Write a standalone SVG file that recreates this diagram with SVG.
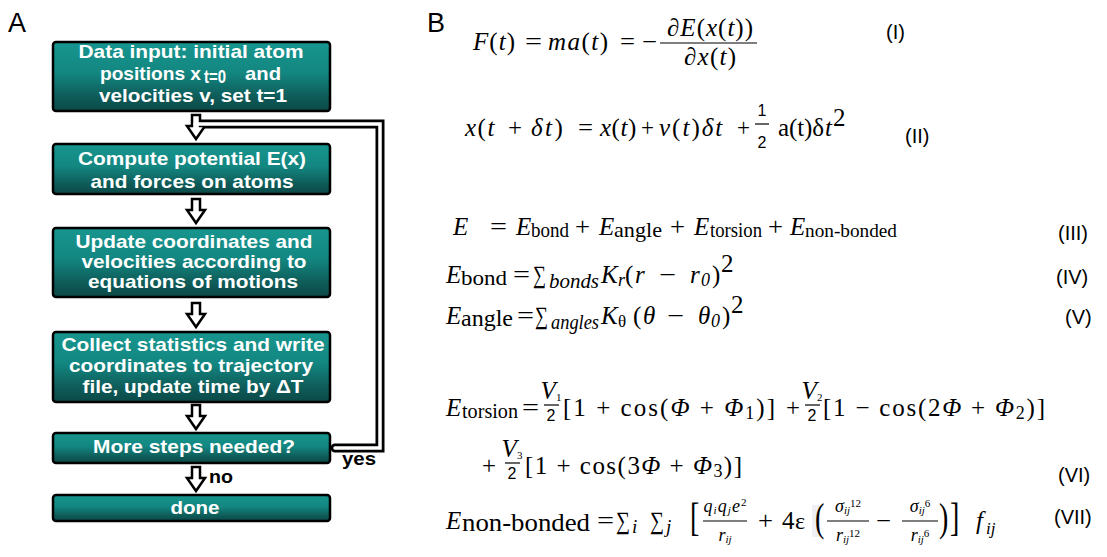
<svg xmlns="http://www.w3.org/2000/svg" width="1107" height="557" viewBox="0 0 1107 557">
<defs>
<linearGradient id="g" x1="0" y1="0" x2="0" y2="1">
<stop offset="0" stop-color="#17968f"/>
<stop offset="0.45" stop-color="#138680"/>
<stop offset="0.8" stop-color="#0e5b58"/>
<stop offset="1" stop-color="#0b4947"/>
</linearGradient>
<path id="arrow" d="M-4,0 H4 V11 H9 L0,24 L-9,11 H-4 Z"/>
<style>
.box{fill:url(#g);stroke:#000;stroke-width:2.5}
.bt{font-family:"Liberation Sans",Arial,sans-serif;font-weight:bold;font-size:19px;fill:#fff;text-anchor:middle}
.bs{font-family:"Liberation Sans",Arial,sans-serif;font-weight:bold;font-size:19px;fill:#fff}
.arr{fill:#fff;stroke:#000;stroke-width:2.5;stroke-linejoin:miter}
.lt{font-family:"Liberation Sans",Arial,sans-serif;font-weight:bold;font-size:19px;fill:#000}
.hd{font-family:"Liberation Sans",Arial,sans-serif;font-size:27px;fill:#000}
.m{font-family:"Liberation Serif","Times New Roman","DejaVu Serif",serif;font-size:25px;fill:#000}
.e{font-family:"Liberation Serif","Times New Roman","DejaVu Serif",serif;font-size:25px;font-style:italic;fill:#000}
.s{font-family:"Liberation Serif","Times New Roman",serif;fill:#000}
.f{font-family:"Liberation Serif","Times New Roman",serif;font-size:18px;fill:#000;text-anchor:middle}
.i{font-style:italic}
.lbl{font-family:"Liberation Sans",Arial,sans-serif;font-size:20px;fill:#000}
.n{font-family:"Liberation Sans",Arial,sans-serif;font-size:16px;fill:#000}
.c{text-anchor:middle}
.bar{stroke:#000;stroke-width:1.2}
</style>
</defs>

<text class="hd" x="8" y="32">A</text>
<text class="hd" x="427" y="32">B</text>

<g id="connectors">
<path d="M335,448 H380 V124 H200" fill="none" stroke="#000" stroke-width="9" stroke-linecap="round"/>
<use href="#arrow" class="arr" x="196" y="115"/>
<path d="M335,448 H380 V124 H195" fill="none" stroke="#fff" stroke-width="3.5" stroke-linecap="round"/>
<use href="#arrow" class="arr" x="196" y="199"/>
<use href="#arrow" class="arr" x="196" y="303"/>
<use href="#arrow" class="arr" x="196" y="405"/>
<use href="#arrow" class="arr" x="196" y="467"/>
<text class="lt" x="342" y="465" textLength="34" lengthAdjust="spacingAndGlyphs">yes</text>
<text class="lt" x="209" y="483" textLength="24" lengthAdjust="spacingAndGlyphs">no</text>
</g>

<g id="n1">
<rect class="box" x="53" y="42" width="277" height="69" rx="3"/>
<text class="bt" x="191" y="58" textLength="225" lengthAdjust="spacingAndGlyphs">Data input: initial atom</text>
<text class="bs" x="100" y="80" textLength="101" lengthAdjust="spacingAndGlyphs">positions x</text>
<text class="bs" x="204" y="83" font-size="14.5" textLength="22" lengthAdjust="spacingAndGlyphs">t=0</text>
<text class="bs" x="245" y="80" textLength="36" lengthAdjust="spacingAndGlyphs">and</text>
<text class="bt" x="193" y="102" textLength="188" lengthAdjust="spacingAndGlyphs">velocities v, set t=1</text>
</g>
<g id="n2">
<rect class="box" x="53" y="144" width="277" height="50" rx="3"/>
<text class="bt" x="192" y="165" textLength="228" lengthAdjust="spacingAndGlyphs">Compute potential E(x)</text>
<text class="bt" x="192" y="188" textLength="203" lengthAdjust="spacingAndGlyphs">and forces on atoms</text>
</g>
<g id="n3">
<rect class="box" x="53" y="228" width="277" height="69" rx="3"/>
<text class="bt" x="194" y="248" textLength="237" lengthAdjust="spacingAndGlyphs">Update coordinates and</text>
<text class="bt" x="194" y="268" textLength="225" lengthAdjust="spacingAndGlyphs">velocities according to</text>
<text class="bt" x="193" y="288" textLength="210" lengthAdjust="spacingAndGlyphs">equations of motions</text>
</g>
<g id="n4">
<rect class="box" x="53" y="332" width="277" height="70" rx="3"/>
<text class="bt" x="193" y="351" textLength="263" lengthAdjust="spacingAndGlyphs">Collect statistics and write</text>
<text class="bt" x="191" y="372" textLength="244" lengthAdjust="spacingAndGlyphs">coordinates to trajectory</text>
<text class="bt" x="193" y="393" textLength="221" lengthAdjust="spacingAndGlyphs">file, update time by ΔT</text>
</g>
<g id="n5">
<rect class="box" x="53" y="433" width="277" height="30" rx="3"/>
<text class="bt" x="194" y="453" textLength="202" lengthAdjust="spacingAndGlyphs">More steps needed?</text>
</g>
<g id="n6">
<rect class="box" x="53" y="495" width="277" height="26" rx="3"/>
<text class="bt" x="195" y="514" textLength="49" lengthAdjust="spacingAndGlyphs">done</text>
</g>

<g id="eq1">
<text class="m" x="473" y="50" textLength="42" lengthAdjust="spacing"><tspan class="i">F</tspan>(<tspan class="i">t</tspan>)</text>
<text class="m" x="525" y="50" textLength="17" lengthAdjust="spacingAndGlyphs">=</text>
<text class="m" x="548" y="50" textLength="60" lengthAdjust="spacing"><tspan class="i">ma</tspan>(<tspan class="i">t</tspan>)</text>
<text class="m" x="620" y="50" textLength="15" lengthAdjust="spacingAndGlyphs">=</text>
<text class="m" x="642" y="50" textLength="15" lengthAdjust="spacingAndGlyphs">−</text>
<line class="bar" x1="660" y1="43" x2="757" y2="43"/>
<text class="m c" x="710" y="36" textLength="86" lengthAdjust="spacing"><tspan class="i">∂E</tspan>(<tspan class="i">x</tspan>(<tspan class="i">t</tspan>))</text>
<text class="m c" x="710" y="65" textLength="52" lengthAdjust="spacing"><tspan class="i">∂x</tspan>(<tspan class="i">t</tspan>)</text>
<text class="lbl" x="886" y="39">(I)</text>
</g>

<g id="eq2">
<text class="m" x="465" y="136" letter-spacing="1.5"><tspan class="i">x</tspan>(<tspan class="i">t</tspan></text>
<text class="m" x="508" y="136" textLength="14" lengthAdjust="spacingAndGlyphs">+</text>
<text class="m" x="531" y="136" letter-spacing="2.5"><tspan class="i">δt</tspan>)</text>
<text class="m" x="578" y="136" textLength="15" lengthAdjust="spacingAndGlyphs">=</text>
<text class="m" x="600" y="136" letter-spacing="0.5"><tspan class="i">x</tspan>(<tspan class="i">t</tspan>)</text>
<text class="m" x="641" y="136" textLength="13" lengthAdjust="spacingAndGlyphs">+</text>
<text class="m" x="659" y="136" letter-spacing="2"><tspan class="i">v</tspan>(<tspan class="i">t</tspan>)<tspan class="i">δt</tspan></text>
<text class="m" x="737" y="136" textLength="13" lengthAdjust="spacingAndGlyphs">+</text>
<text class="n c" x="762" y="116" font-size="20">1</text>
<line class="bar" x1="755" y1="124" x2="769" y2="124"/>
<text class="n c" x="762" y="148" font-size="20">2</text>
<text class="m" x="778" y="136" textLength="46" lengthAdjust="spacing">a(t)δ</text>
<text class="m i" x="825" y="136">t</text>
<text class="m" x="833" y="126" font-size="15">2</text>
<text class="lbl" x="905" y="143">(II)</text>
</g>

<g id="eq3">
<text class="e" x="453" y="235">E</text>
<text class="m" x="490" y="235" textLength="17" lengthAdjust="spacingAndGlyphs">=</text>
<text class="e" x="516" y="235">E</text>
<text class="s" x="531" y="237" font-size="21" textLength="38" lengthAdjust="spacingAndGlyphs">bond</text>
<text class="m" x="575" y="235" textLength="15" lengthAdjust="spacingAndGlyphs">+</text>
<text class="e" x="599" y="235">E</text>
<text class="s" x="614" y="237" font-size="21" textLength="48" lengthAdjust="spacingAndGlyphs">angle</text>
<text class="m" x="670" y="235" textLength="15" lengthAdjust="spacingAndGlyphs">+</text>
<text class="e" x="694" y="235">E</text>
<text class="s" x="710" y="237" font-size="20" textLength="52" lengthAdjust="spacingAndGlyphs">torsion</text>
<text class="m" x="768" y="235" textLength="15" lengthAdjust="spacingAndGlyphs">+</text>
<text class="e" x="790" y="235">E</text>
<text class="s" x="805" y="237" font-size="19" textLength="92" lengthAdjust="spacingAndGlyphs">non-bonded</text>
<text class="lbl" x="1058" y="240">(III)</text>
</g>

<g id="eq4">
<text class="e" x="446" y="283">E</text>
<text class="s" x="461" y="285" font-size="22" textLength="46" lengthAdjust="spacingAndGlyphs">bond</text>
<text class="m" x="513" y="283" textLength="17" lengthAdjust="spacingAndGlyphs">=</text>
<text class="m" x="533" y="283" textLength="13" lengthAdjust="spacingAndGlyphs">∑</text>
<text class="s i" x="549" y="288" font-size="20" textLength="50" lengthAdjust="spacingAndGlyphs">bonds</text>
<text class="e" x="601" y="283">K</text>
<text class="s i" x="618" y="286" font-size="18">r</text>
<text class="m" x="625" y="283">(</text>
<text class="e" x="635" y="283">r</text>
<text class="m" x="659" y="283" textLength="17" lengthAdjust="spacingAndGlyphs">−</text>
<text class="e" x="690" y="283">r</text>
<text class="s i" x="701" y="286" font-size="18">0</text>
<text class="m" x="712" y="283">)</text>
<text class="m" x="721" y="272" font-size="16">2</text>
<text class="lbl" x="1056" y="284">(IV)</text>
</g>

<g id="eq5">
<text class="e" x="446" y="324">E</text>
<text class="s" x="461" y="326" font-size="23" textLength="52" lengthAdjust="spacingAndGlyphs">angle</text>
<text class="m" x="517" y="324" textLength="17" lengthAdjust="spacingAndGlyphs">=</text>
<text class="m" x="535" y="324" textLength="13" lengthAdjust="spacingAndGlyphs">∑</text>
<text class="s i" x="551" y="329" font-size="20" textLength="48" lengthAdjust="spacingAndGlyphs">angles</text>
<text class="e" x="601" y="324">K</text>
<text class="s" x="618" y="327" font-size="17">θ</text>
<text class="m" x="633" y="324">(</text>
<text class="e" x="643" y="324">θ</text>
<text class="m" x="667" y="324" textLength="17" lengthAdjust="spacingAndGlyphs">−</text>
<text class="e" x="698" y="324">θ</text>
<text class="s i" x="711" y="327" font-size="18">0</text>
<text class="m" x="722" y="324">)</text>
<text class="m" x="731" y="313" font-size="16">2</text>
<text class="lbl" x="1065" y="324">(V)</text>
</g>

<g id="eq6">
<text class="e" x="446" y="416">E</text>
<text class="s" x="462" y="418" font-size="21" textLength="56" lengthAdjust="spacingAndGlyphs">torsion</text>
<text class="m" x="522" y="416" textLength="17" lengthAdjust="spacingAndGlyphs">=</text>
<text class="m c" x="551" y="399" font-size="16"><tspan class="i">V</tspan><tspan font-size="11" dy="2">1</tspan></text>
<line class="bar" x1="544" y1="405" x2="559" y2="405"/>
<text class="n c" x="551" y="421" font-size="15">2</text>
<text class="m" x="563" y="416" font-size="26" textLength="212" lengthAdjust="spacing">[1 + cos(<tspan class="i">Φ</tspan> + <tspan class="i">Φ</tspan><tspan font-size="18" dy="3">1</tspan><tspan dy="-3">)]</tspan></text>
<text class="m" x="786" y="416" textLength="14" lengthAdjust="spacingAndGlyphs">+</text>
<text class="m c" x="812" y="399" font-size="16"><tspan class="i">V</tspan><tspan font-size="11" dy="2">2</tspan></text>
<line class="bar" x1="805" y1="405" x2="820" y2="405"/>
<text class="n c" x="812" y="421" font-size="15">2</text>
<text class="m" x="823" y="416" font-size="26" textLength="222" lengthAdjust="spacing">[1 − cos(2<tspan class="i">Φ</tspan> + <tspan class="i">Φ</tspan><tspan font-size="18" dy="3">2</tspan><tspan dy="-3">)]</tspan></text>
<text class="m" x="482" y="474" textLength="14" lengthAdjust="spacingAndGlyphs">+</text>
<text class="m c" x="512" y="457" font-size="16"><tspan class="i">V</tspan><tspan font-size="11" dy="2">3</tspan></text>
<line class="bar" x1="505" y1="463" x2="520" y2="463"/>
<text class="n c" x="512" y="479" font-size="15">2</text>
<text class="m" x="525" y="474" font-size="26" textLength="217" lengthAdjust="spacing">[1 + cos(3<tspan class="i">Φ</tspan> + <tspan class="i">Φ</tspan><tspan font-size="18" dy="3">3</tspan><tspan dy="-3">)]</tspan></text>
<text class="lbl" x="1058" y="482">(VI)</text>
</g>

<g id="eq7">
<rect x="812" y="505" width="8" height="32" fill="#eef0f4"/>
<text class="e" x="446" y="529">E</text>
<text class="s" x="462" y="531" font-size="25" textLength="128" lengthAdjust="spacingAndGlyphs">non-bonded</text>
<text class="m" x="597" y="529" textLength="17" lengthAdjust="spacingAndGlyphs">=</text>
<text class="m" x="616" y="529" textLength="14" lengthAdjust="spacingAndGlyphs">∑</text>
<text class="s i" x="632" y="533" font-size="19">i</text>
<text class="m" x="650" y="529" textLength="14" lengthAdjust="spacingAndGlyphs">∑</text>
<text class="s i" x="666" y="533" font-size="19">j</text>
<text class="s" transform="translate(690,531) scale(1,1.45)" font-size="28">[</text>
<text class="f" x="725" y="512" textLength="43" lengthAdjust="spacing"><tspan class="i">q</tspan><tspan class="i" font-size="11" dy="2">i</tspan><tspan class="i" dy="-2">q</tspan><tspan class="i" font-size="11" dy="2">j</tspan><tspan class="i" dy="-2">e</tspan><tspan font-size="11" dy="-6">2</tspan></text>
<line class="bar" x1="703" y1="521" x2="747" y2="521"/>
<text class="f" x="725" y="541"><tspan class="i">r</tspan><tspan class="i" font-size="11" dy="2">ij</tspan></text>
<text class="m" x="758" y="529" textLength="15" lengthAdjust="spacingAndGlyphs">+</text>
<text class="m" x="782" y="529" font-size="24">4</text>
<text class="s" x="795" y="529" font-size="24">ε</text>
<text class="s" transform="translate(815,531) scale(1,1.45)" font-size="28">(</text>
<text class="f" x="848" y="512"><tspan class="i">σ</tspan><tspan class="i" font-size="11" dy="2">ij</tspan><tspan font-size="11" dy="-7">12</tspan></text>
<line class="bar" x1="827" y1="521" x2="869" y2="521"/>
<text class="f" x="848" y="541"><tspan class="i">r</tspan><tspan class="i" font-size="11" dy="2">ij</tspan><tspan font-size="11" dy="-6">12</tspan></text>
<text class="m" x="876" y="529" textLength="15" lengthAdjust="spacingAndGlyphs">−</text>
<text class="f" x="920" y="512"><tspan class="i">σ</tspan><tspan class="i" font-size="11" dy="2">ij</tspan><tspan font-size="11" dy="-7">6</tspan></text>
<line class="bar" x1="902" y1="521" x2="938" y2="521"/>
<text class="f" x="920" y="541"><tspan class="i">r</tspan><tspan class="i" font-size="11" dy="2">ij</tspan><tspan font-size="11" dy="-6">6</tspan></text>
<text class="s" transform="translate(939,531) scale(1,1.45)" font-size="28">)</text>
<text class="s" transform="translate(950,531) scale(1,1.45)" font-size="28">]</text>
<text class="e" x="976" y="529">f</text>
<text class="s i" x="986" y="534" font-size="17">ij</text>
<text class="lbl" x="1054" y="524">(VII)</text>
</g>
</svg>
